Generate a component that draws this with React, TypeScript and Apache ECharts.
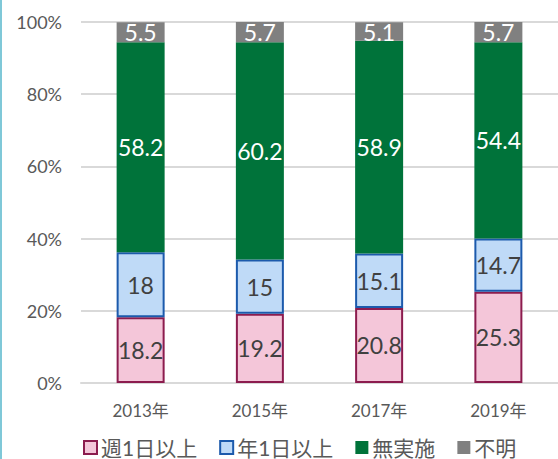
import React, { useEffect, useRef } from "react";
import * as echarts from "echarts";

const categories = ["2013年", "2015年", "2017年", "2019年"];
const weekly = [18.2, 19.2, 20.8, 25.3];
const yearly = [18, 15, 15.1, 14.7];
const none = [58.2, 60.2, 58.9, 54.4];
const unknown = [5.5, 5.7, 5.1, 5.7];
const seriesNames = ["週1日以上", "年1日以上", "無実施", "不明"];
const yTicks = [0, 20, 40, 60, 80, 100];

const FONT = "Lato, 'Noto Sans CJK JP', sans-serif";

export default function App() {
  const ref = useRef<HTMLDivElement>(null);
  useEffect(() => {
    if (!ref.current) return;
    const chart = echarts.init(ref.current, undefined, { renderer: "svg" });
    const lbl = (color: string) => ({
      show: true,
      position: "inside",
      color,
      fontSize: 23,
      fontFamily: FONT,
    });
    chart.setOption({
      animation: false,
      textStyle: { fontFamily: FONT },
      graphic: [
        { type: "rect", shape: { x: 0, y: 0, width: 2, height: 459 }, style: { fill: "#7fc8d8" } },
      ],
      grid: { left: 81, top: 22, width: 484, height: 361, containLabel: false },
      legend: {
        data: seriesNames,
        icon: "rect",
        left: 83,
        top: 437,
        padding: 0,
        itemWidth: 13,
        itemHeight: 13,
        itemGap: 22,
        textStyle: { fontSize: 21, lineHeight: 20, color: "#595959", fontFamily: FONT, padding: [0, 0, 0, -1] },
      },
      xAxis: {
        type: "category",
        data: categories,
        axisTick: { show: false },
        axisLine: { show: true, lineStyle: { color: "#d9d9d9", width: 2 } },
        axisLabel: { fontSize: 17, color: "#595959", margin: 19, fontFamily: FONT },
      },
      yAxis: {
        type: "value",
        min: yTicks[0],
        max: yTicks[yTicks.length - 1],
        interval: 20,
        axisLabel: { formatter: "{value}%", fontSize: 18, color: "#595959", margin: 19, fontFamily: FONT },
        splitLine: { lineStyle: { color: "#d9d9d9", width: 2 } },
        axisLine: { show: false },
        axisTick: { show: false },
      },
      series: [
        {
          name: seriesNames[0], type: "bar", stack: "t", data: weekly, barWidth: 48,
          itemStyle: { color: "#f4c6d9", borderColor: "#8c1c4e", borderWidth: 2 },
          label: lbl("#404040"),
        },
        {
          name: seriesNames[1], type: "bar", stack: "t", data: yearly, barWidth: 48,
          itemStyle: { color: "#bfdaf7", borderColor: "#1c5aac", borderWidth: 2 },
          label: lbl("#404040"),
        },
        {
          name: seriesNames[2], type: "bar", stack: "t", data: none, barWidth: 48,
          itemStyle: { color: "#00733a" },
          label: lbl("#ffffff"),
        },
        {
          name: seriesNames[3], type: "bar", stack: "t", data: unknown, barWidth: 48,
          itemStyle: { color: "#808080" },
          label: lbl("#ffffff"),
        },
      ],
    });
    return () => chart.dispose();
  }, []);
  return (
    <div
      ref={ref}
      style={{ position: "fixed", left: 0, top: 0, width: 558, height: 459, background: "#fff" }}
    />
  );
}
